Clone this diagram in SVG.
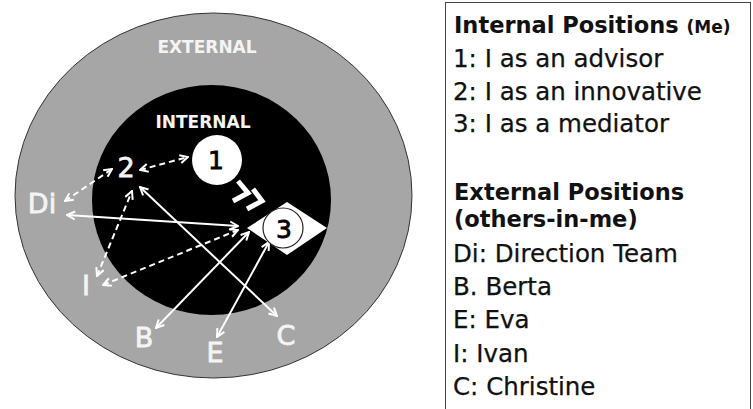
<svg xmlns="http://www.w3.org/2000/svg" width="753" height="409" viewBox="0 0 753 409">
<style>
.lbl{font-family:"DejaVu Sans",sans-serif;fill:#f4f4f4;stroke:#f4f4f4;stroke-width:0.8;font-size:27px;text-anchor:middle}
.zone{font-family:"DejaVu Sans",sans-serif;font-weight:bold;fill:#f4f4f4;font-size:17px;text-anchor:middle}
.num{font-family:"DejaVu Sans",sans-serif;fill:#000;stroke:#000;stroke-width:0.8;font-size:25px;text-anchor:middle}
.leg{font-family:"DejaVu Sans",sans-serif;fill:#111;stroke:#111;stroke-width:0.25;font-size:24.5px}
.legb{font-family:"DejaVu Sans",sans-serif;fill:#111;font-size:22.5px;font-weight:bold}
.con{stroke:#fff;stroke-width:2;fill:none;marker-start:url(#ah);marker-end:url(#ah)}
.dash{stroke-dasharray:6 4}
</style>
<defs>
<marker id="ah" viewBox="0 0 10 10" refX="9" refY="5" markerWidth="10" markerHeight="10" markerUnits="userSpaceOnUse" orient="auto-start-reverse">
<path d="M1,1 L9,5 L1,9" fill="none" stroke="#fff" stroke-width="2"/>
</marker>
</defs>
<rect width="753" height="409" fill="#fff"/>
<g id="external">
<ellipse cx="213.5" cy="195.5" rx="198.5" ry="182.5" fill="#a6a6a6" stroke="#333" stroke-width="1"/>
<text class="zone" x="207" y="53">EXTERNAL</text>
</g>
<g id="internal">
<ellipse cx="211.5" cy="200" rx="119.5" ry="115" fill="#000"/>
<text class="zone" x="203" y="128" fill="#fff">INTERNAL</text>
</g>
<g id="chevrons" fill="none" stroke="#fff" stroke-width="5" stroke-linejoin="miter">
<polyline points="238,181 248,193 233,201"/>
<polyline points="253,189 262,201 247,209"/>
</g>
<g id="connectors">
<line class="con dash" x1="140" y1="170" x2="188" y2="157"/>
<line class="con dash" x1="65" y1="201" x2="112" y2="169"/>
<line class="con dash" x1="97" y1="276" x2="132" y2="191"/>
<line class="con dash" x1="103" y1="285" x2="238" y2="230"/>
<line class="con" x1="67" y1="215" x2="238" y2="226"/>
<line class="con" x1="140" y1="187" x2="277" y2="316"/>
<line class="con" x1="156" y1="328" x2="249" y2="232"/>
<line class="con" x1="217" y1="337" x2="269" y2="242"/>
</g>
<g id="pos1">
<circle cx="217" cy="160" r="25" fill="#fff"/>
<text class="num" x="216" y="169">1</text>
</g>
<g id="pos2">
<text class="lbl" x="126" y="177" fill="#fff">2</text>
</g>
<g id="pos3">
<polygon points="247,228 287,202 327,228 287,255" fill="#fff"/>
<circle cx="283" cy="228" r="20" fill="#fff" stroke="#222" stroke-width="1.2"/>
<text class="num" x="284" y="238" font-size="27">3</text>
</g>
<g id="Di"><text class="lbl" x="42" y="213">Di</text></g>
<g id="I"><text class="lbl" x="86" y="295">I</text></g>
<g id="B"><text class="lbl" x="144" y="347">B</text></g>
<g id="E"><text class="lbl" x="215" y="362">E</text></g>
<g id="C"><text class="lbl" x="286" y="345">C</text></g>
<g id="legend">
<rect x="445.5" y="2.5" width="305" height="420" fill="#fff" stroke="#444" stroke-width="1"/>
<text class="legb" x="454" y="33">Internal Positions <tspan font-size="17">(Me)</tspan></text>
<text class="leg" x="453" y="67">1: I as an advisor</text>
<text class="leg" x="453" y="100">2: I as an innovative</text>
<text class="leg" x="453" y="132">3: I as a mediator</text>
<text class="legb" x="454" y="200">External Positions</text>
<text class="legb" x="454" y="227" font-size="19">(others-in-me)</text>
<text class="leg" x="453" y="262">Di: Direction Team</text>
<text class="leg" x="453" y="295">B. Berta</text>
<text class="leg" x="453" y="328">E: Eva</text>
<text class="leg" x="453" y="362">I: Ivan</text>
<text class="leg" x="453" y="395">C: Christine</text>
</g>
</svg>
